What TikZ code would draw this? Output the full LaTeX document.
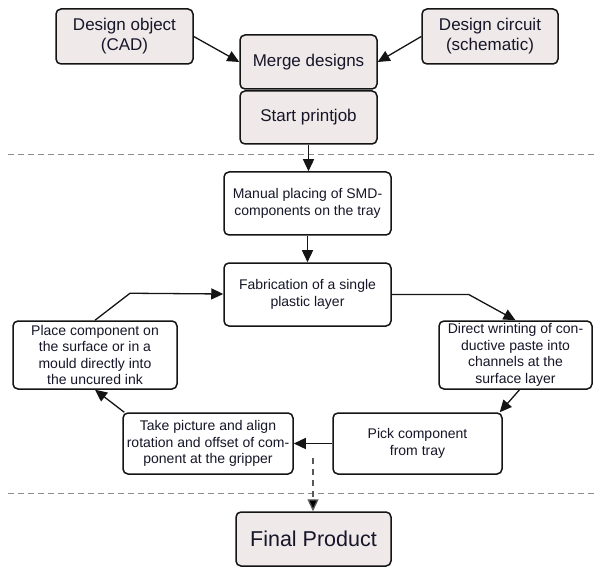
\documentclass[tikz,border=0pt]{standalone}
\usepackage{fontspec}
\setmainfont{Liberation Sans}
\usetikzlibrary{arrows.meta}
\definecolor{boxfill}{RGB}{239,233,233}
\definecolor{boxline}{RGB}{20,20,20}
\definecolor{txt}{RGB}{22,22,40}
\definecolor{sepgray}{RGB}{140,140,140}
\tikzset{
  basebox/.style={draw=boxline, line width=1.5pt, rounded corners=5pt, align=center, text=txt, inner sep=0pt},
  graybox/.style={basebox, fill=boxfill, font=\fontsize{17}{20}\selectfont},
  whitebox/.style={basebox, fill=white, font=\fontsize{14}{16.5}\selectfont},
  finalbox/.style={basebox, fill=boxfill, font=\fontsize{21.5}{24}\selectfont},
  flow/.style={draw=boxline, line width=1.3pt, -{Triangle[length=12pt,width=11pt]}},
  dflow/.style={draw=black!65, line width=1.3pt, dash pattern=on 6pt off 5pt, -{Triangle[length=12pt,width=11pt,fill=black]}},
  sep/.style={draw=sepgray, line width=1pt, dash pattern=on 6pt off 4pt}
}
\begin{document}
\begin{tikzpicture}[x=1pt,y=-1pt]
\useasboundingbox (0,0) rectangle (595,567);
% top group
\node[graybox, minimum width=137pt, minimum height=55pt] (dobj) at (124.5,36.5) {Design object\\(CAD)};
\node[graybox, minimum width=137pt, minimum height=54pt] (merge) at (308.5,62) {Merge designs};
\node[graybox, minimum width=136pt, minimum height=55pt] (dcirc) at (490,36.5) {Design circuit\\(schematic)};
\node[graybox, minimum width=137pt, minimum height=53pt] (start) at (308.5,117.5) {Start printjob};
% separators
\coordinate (s1l) at (8,155);
\coordinate (s1r) at (595,155);
\coordinate (s2l) at (8,493);
\coordinate (s2r) at (595,493);
\draw[sep] (s1l) -- (s1r);
\draw[sep] (s2l) -- (s2r);
% process
\node[whitebox, minimum width=167pt, minimum height=63pt] (manual) at (307.5,203.5) {Manual placing of SMD-\\components on the tray};
\node[whitebox, minimum width=167pt, minimum height=63pt] (fab) at (307.5,294.5) {Fabrication of a single\\plastic layer};
\node[whitebox, minimum width=164pt, minimum height=68pt] (place) at (95,355) {Place component on\\the surface or in a\\mould directly into\\the uncured ink};
\node[whitebox, minimum width=153pt, minimum height=68pt] (direct) at (515.5,355) {Direct wrinting of con-\\ductive paste into\\channels at the\\surface layer};
\node[whitebox, minimum width=170pt, minimum height=61pt] (take) at (208,443.5) {Take picture and align\\rotation and offset of com-\\ponent at the gripper};
\node[whitebox, minimum width=169pt, minimum height=61pt] (pick) at (417.5,443.5) {Pick component\\from tray};
\node[finalbox, minimum width=155pt, minimum height=54pt] (final) at (313.5,539) {Final Product};
\coordinate (dstart) at (313,458);
% connectors
\draw[flow] (dobj.east) -- (merge.west);
\draw[flow] (dcirc.west) -- (merge.east);
\draw[flow] (start.south) -- (start.south |- manual.north);
\draw[flow] (manual.south) -- (fab.north);
\draw[flow] (fab.east) -- ++(77,0) -- (direct.north);
\draw[flow] ([xshift=4pt]direct.south) -- ([xshift=-3pt]pick.north east);
\draw[flow] (pick.west) -- (take.east);
\draw[flow] ([xshift=2pt]take.north west) -- (place.south);
\draw[flow] (place.north) -- ++(35,-27) -- (fab.west |- 0,294);
\draw[dflow] (dstart) -- (dstart |- final.north);
\end{tikzpicture}
\end{document}
